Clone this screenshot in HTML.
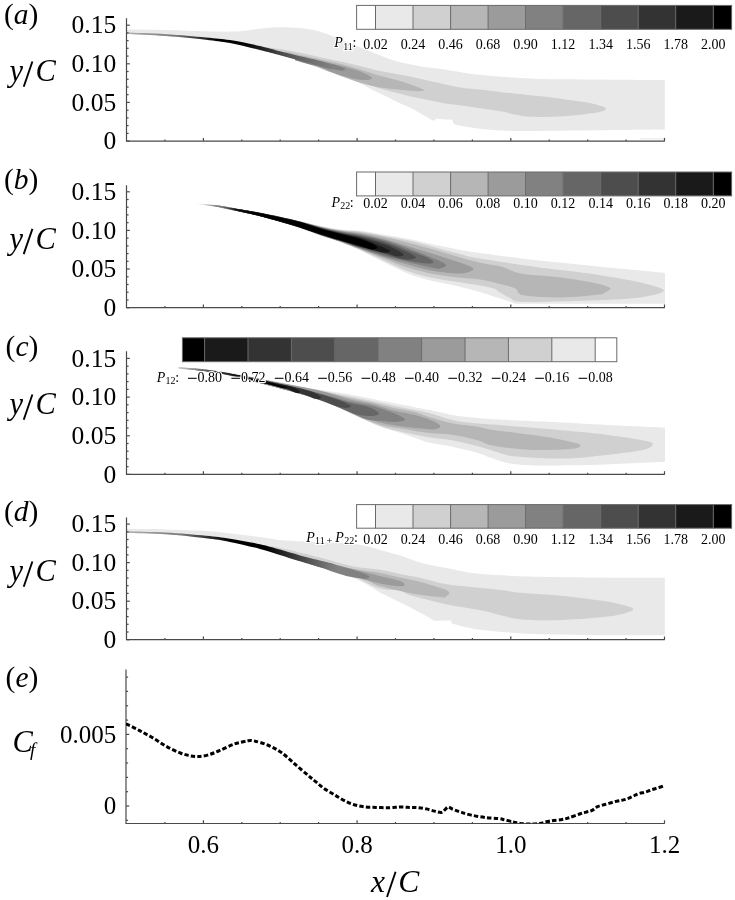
<!DOCTYPE html>
<html><head><meta charset="utf-8"><style>
html,body{margin:0;padding:0;background:#fff;}
body{width:735px;height:900px;overflow:hidden;}
svg{display:block;will-change:transform;}
text{font-family:"Liberation Serif",serif;fill:#000;}
.h{stroke:#fff;stroke-width:2.2px;stroke-linejoin:round;paint-order:stroke fill;}
</style></head><body>
<svg width="735" height="900" viewBox="0 0 735 900">
<defs><linearGradient id="ga" gradientUnits="userSpaceOnUse" x1="126" y1="0" x2="342" y2="0"><stop offset="0" stop-color="#b0b0b0"/><stop offset="0.22" stop-color="#7a7a7a"/><stop offset="0.36" stop-color="#2a2a2a"/><stop offset="0.42" stop-color="#000"/><stop offset="0.56" stop-color="#050505"/><stop offset="0.64" stop-color="#262626"/><stop offset="0.72" stop-color="#4a4a4a"/><stop offset="0.82" stop-color="#666"/><stop offset="0.92" stop-color="#7a7a7a"/><stop offset="1" stop-color="#8a8a8a"/></linearGradient><linearGradient id="rc" gradientUnits="userSpaceOnUse" x1="180" y1="0" x2="242" y2="0"><stop offset="0.000" stop-color="#c8c8c8"/><stop offset="0.242" stop-color="#8a8a8a"/><stop offset="0.452" stop-color="#555555"/><stop offset="0.726" stop-color="#2a2a2a"/><stop offset="1.000" stop-color="#000000"/></linearGradient><linearGradient id="gd" gradientUnits="userSpaceOnUse" x1="126" y1="0" x2="345" y2="0"><stop offset="0" stop-color="#b0b0b0"/><stop offset="0.25" stop-color="#7a7a7a"/><stop offset="0.40" stop-color="#222"/><stop offset="0.48" stop-color="#000"/><stop offset="0.64" stop-color="#000"/><stop offset="0.73" stop-color="#2a2a2a"/><stop offset="0.84" stop-color="#555"/><stop offset="0.93" stop-color="#777"/><stop offset="1" stop-color="#8a8a8a"/></linearGradient><clipPath id="cpe"><rect x="126" y="660" width="545" height="163.2"/></clipPath></defs>
<rect width="735" height="900" fill="#fff"/>
<path d="M126 29.4 C132.7 29.5 152.7 29.6 166 29.9 C179.3 30.2 195 31 206 31.3 C217 31.6 224.5 31.8 232 31.6 C239.5 31.4 245.3 30.5 251 29.9 C256.7 29.3 261.2 28.4 266 28 C270.8 27.6 274.3 27.2 280 27.2 C285.7 27.2 294 27.4 300 28 C306 28.6 310.5 29.2 316 30.6 C321.5 32 326.8 34 333 36.3 C339.2 38.6 346.2 41.8 353 44.5 C359.8 47.2 367.3 50.2 373.5 52.7 C379.7 55.2 384.6 57.4 390 59.2 C395.4 61 400.8 62.4 406 63.6 C411.2 64.8 415.2 65.6 421 66.5 C426.8 67.4 434.2 68 441 69 C447.8 70 455.2 71.4 462 72.4 C468.8 73.4 475.3 74.3 482 75 C488.7 75.7 494 76.2 502 76.8 C510 77.4 519.7 78 530 78.4 C540.3 78.8 541.5 79 564 79.3 C586.5 79.6 648 80 664.8 80.1 L664.8 129.6 C654 129.7 622.5 130.1 600 130.3 C577.5 130.5 546.3 131 530 131 C513.7 131 510 130.7 502 130.4 C494 130.1 488.7 129.7 482 129 C475.3 128.3 466.7 126.8 462 126 C457.3 125.2 455.7 125 454 124 C452.3 123 453.7 120.8 452 120 C450.3 119.2 446.7 119.7 444 119.5 C441.3 119.3 437.7 118.6 436 118.8 C434.3 119 436.5 121.4 434 120.6 C431.5 119.8 424.7 115.7 421 113.7 C417.3 111.7 415.5 110.2 412 108.5 C408.5 106.8 403.7 104.9 400 103.2 C396.3 101.5 393.3 99.9 390 98.3 C386.7 96.7 383.7 95.4 380 93.6 C376.3 91.8 372.2 89.7 368 87.5 C363.8 85.3 359.5 82.9 355 80.5 C350.5 78.1 346.8 75.6 341 73.2 C335.2 70.8 326.8 68.1 320 66 C313.2 63.9 306.7 62.2 300 60.4 C293.3 58.6 286.7 56.7 280 55 C273.3 53.3 268.3 52.2 260 50.2 C251.7 48.2 239 45 230 43.3 C221 41.6 216.7 41.1 206 39.9 C195.3 38.7 179.3 37.1 166 36.1 C152.7 35.1 132.7 34.4 126 34.1 Z" fill="#e9e9e9"/>
<rect x="640" y="138" width="24" height="1.6" fill="#f0f0f0"/>
<path d="M262 47 C265 47.3 273.7 48 280 49 C286.3 50 293.2 51.4 300 52.8 C306.8 54.2 314.2 56 321 57.5 C327.8 59 334.2 60 341 61.5 C347.8 63 355.5 64.9 362 66.5 C368.5 68.1 372.8 69.5 380 71 C387.2 72.5 398.2 74.2 405 75.5 C411.8 76.8 415 77.7 421 79 C427 80.3 434.2 82 441 83.5 C447.8 85 455.2 86.8 462 87.8 C468.8 88.8 475.3 89.1 482 89.8 C488.7 90.5 494 91.3 502 92.2 C510 93.1 522.8 94.5 530 95.3 C537.2 96.1 539.3 96.1 545 96.8 C550.7 97.5 557.8 98.4 564 99.2 C570.2 100 577 101 582 101.8 C587 102.6 590.7 103.2 594 104 C597.3 104.8 600 105.6 602 106.3 C604 107 605.8 107.5 606 108.3 C606.2 109.1 605.3 110.2 603 111 C600.7 111.8 598.5 112.4 592 113.3 C585.5 114.2 574.3 115.6 564 116.2 C553.7 116.8 539 117.2 530 116.8 C521 116.3 514.7 114.4 510 113.5 C505.3 112.6 506.7 112.4 502 111.6 C497.3 110.8 488.7 109.6 482 108.6 C475.3 107.6 468.2 106.3 462 105.5 C455.8 104.7 450.7 104.4 445 103.5 C439.3 102.6 433.7 101.2 428 100 C422.3 98.8 416.5 97.8 411 96.5 C405.5 95.2 400.2 93.8 395 92.5 C389.8 91.2 384.5 89.9 380 88.5 C375.5 87.1 372.2 85.6 368 84 C363.8 82.4 359.5 80.9 355 79 C350.5 77.1 346.7 75 341 72.8 C335.3 70.6 327.8 68.1 321 66 C314.2 63.9 306.8 61.9 300 60 C293.2 58.1 286.3 56.5 280 54.7 C273.7 53 265 50.4 262 49.5 Z" fill="#d0d0d0"/>
<path d="M285 51.6 C289.2 52.5 302.5 55.6 310 57.3 C317.5 58.9 323.3 60 330 61.5 C336.7 63 342.5 64.4 350 66.5 C357.5 68.6 367 71.9 374.9 74.2 C382.8 76.5 391.2 78.4 397.4 80.2 C403.6 82 408.5 83.7 412.3 85 C416.1 86.3 418 87.1 420 88 C422 88.9 424.6 89.7 424.3 90.2 C424 90.8 420 91.2 418 91.3 C416 91.4 417 91.2 412.3 90.8 C407.6 90.4 396.1 89.4 389.9 88.7 C383.7 88 379.9 87.4 374.9 86.4 C369.9 85.4 365 84.2 360 82.7 C355 81.2 350 79.3 345 77.5 C340 75.7 335.8 74.2 330 72 C324.2 69.8 316.7 66.9 310 64.5 C303.3 62.1 293.3 58.9 290 57.8 Z" fill="#b6b6b6"/>
<path d="M300 56.3 C303.3 57 313.3 59.2 320 60.8 C326.7 62.3 334.2 64.1 340 65.6 C345.8 67.1 350.7 68.4 355 69.8 C359.3 71.2 363.2 72.6 366 74 C368.8 75.4 371.9 77.2 371.9 78.2 C371.9 79.2 368.8 79.9 366 80 C363.2 80.1 358.5 79.6 355 79 C351.5 78.4 349.2 77.8 345 76.5 C340.8 75.2 334.2 73.1 330 71.5 C325.8 69.9 325 68.8 320 67 C315 65.2 303.3 61.6 300 60.5 Z" fill="#9b9b9b"/>
<path d="M295 56.2 C298.3 56.8 309.2 58.7 315 59.9 C320.8 61.1 325.8 62.5 330 63.6 C334.2 64.7 337.5 65.7 340 66.6 C342.5 67.5 345 68.1 345 68.8 C345 69.5 345 71 340 70.5 C335 70 322.5 67.3 315 65.6 C307.5 63.9 298.3 61.1 295 60.2 Z" fill="#818181"/>
<path d="M126 33.9 C132.7 34.2 152.7 34.9 166 35.9 C179.3 36.9 195.3 38.5 206 39.7 C216.7 40.9 221 41.4 230 43.1 C239 44.8 251.7 48 260 50 C268.3 52 273.3 53.4 280 55.2 C286.7 57 293.3 58.8 300 60.6 C306.7 62.4 315 64.6 320 66 C325 67.4 327.3 68.6 330 69 C332.7 69.4 336 69.3 336 68.6 C336 67.8 332.7 65.8 330 64.5 C327.3 63.2 325 62.4 320 61 C315 59.6 306.7 57.9 300 56.3 C293.3 54.7 286.7 53 280 51.3 C273.3 49.6 268.3 47.9 260 46 C251.7 44.1 239 41.4 230 40 C221 38.6 216.7 38.4 206 37.4 C195.3 36.4 179.3 35 166 34.2 C152.7 33.4 132.7 32.9 126 32.6 Z" fill="url(#ga)"/>
<path d="M195.4 203.8 C199 204.1 210 204.4 217 205.2 C224 206 230.8 207.5 237.6 208.7 C244.4 209.9 250.9 210.9 258 212.2 C265.1 213.5 272.9 215.1 280 216.6 C287.1 218.1 293.6 219.7 300.4 221.3 C307.2 222.9 314 224.7 320.8 226.1 C327.6 227.5 334.7 228.7 341.2 229.5 C347.7 230.3 352.8 229.8 360 230.7 C367.2 231.6 376.3 233.4 384.5 234.8 C392.7 236.2 400.8 237.3 409 238.9 C417.2 240.5 425.3 242.8 433.5 244.6 C441.7 246.4 450.2 248.1 458 249.5 C465.8 250.9 467.3 251.3 480 253 C492.7 254.7 516.3 257.8 534.4 259.9 C552.5 262 570.6 263.6 588.8 265.4 C606.9 267.2 630.6 269.5 643.3 270.8 C656 272.1 661.4 272.6 665 273 L665 303.8 L515.4 303.8 C514 303.3 510.8 301.9 507.2 300.7 C503.6 299.5 498.1 297.9 493.6 296.5 C489.1 295.1 485.9 293.7 480 292 C474.1 290.3 465.8 288 458 286.2 C450.2 284.4 441.7 283.3 433.5 281.3 C425.3 279.3 417.2 277.1 409 274 C400.8 270.9 392.7 266.6 384.5 262.6 C376.3 258.7 367.2 253.7 360 250.3 C352.8 246.9 347.7 244.9 341.2 242.4 C334.7 239.9 327.6 238 320.8 235.6 C314 233.2 307.2 230.4 300.4 228.1 C293.6 225.8 287.1 224.1 280 222 C272.9 219.9 265.1 217.6 258 215.8 C250.9 214 244.4 212.8 237.6 211.3 C230.8 209.8 220.4 207.6 217 206.9 Z" fill="#e9e9e9"/>
<path d="M199.8 204.3 C202.7 204.5 210.7 204.5 217 205.2 C223.3 206 230.8 207.6 237.6 208.8 C244.4 209.9 250.9 210.9 258 212.3 C265.1 213.6 272.9 215.2 280 216.7 C287.1 218.2 293.6 219.8 300.4 221.4 C307.2 223 314 225 320.8 226.4 C327.6 227.8 334.7 229.2 341.2 230 C347.7 230.9 352.8 230.6 360 231.6 C367.2 232.6 376.3 234.5 384.5 236 C392.7 237.5 400.8 238.7 409 240.5 C417.2 242.3 425.3 244.8 433.5 247 C441.7 249.2 450.2 251.7 458 253.6 C465.8 255.5 467.3 256.4 480 258.6 C492.7 260.8 516.3 264.2 534.4 266.7 C552.5 269.2 572.9 271.2 588.8 273.5 C604.7 275.8 619.2 278.3 629.7 280.3 C640.2 282.3 646.3 283.9 652 285.5 C657.7 287.1 662.9 288.6 663.7 290 C664.5 291.4 661 292.8 657 294 C653 295.2 646.8 296.6 640 297.5 C633.2 298.4 629.1 298.8 616 299.4 C602.9 300 577.6 300.9 561.6 301.3 C545.6 301.7 528.6 302.4 520 301.8 C511.4 301.2 513.3 299.6 510 298 C506.7 296.4 502.7 294.1 500 292.5 C497.3 290.9 496.9 289.6 493.6 288.5 C490.3 287.4 485.9 286.7 480 285.6 C474.1 284.5 465.8 283.4 458 282.1 C450.2 280.8 441.7 279.8 433.5 278 C425.3 276.2 417.2 274.4 409 271.5 C400.8 268.6 392.7 264.5 384.5 260.9 C376.3 257.3 367.2 252.9 360 249.8 C352.8 246.7 347.7 244.6 341.2 242.2 C334.7 239.8 327.6 237.8 320.8 235.5 C314 233.1 307.2 230.3 300.4 228 C293.6 225.8 287.1 224 280 221.9 C272.9 219.9 265.1 217.5 258 215.8 C250.9 214 244.4 212.7 237.6 211.3 C230.8 209.8 220.4 207.6 217 206.9 Z" fill="#d0d0d0"/>
<path d="M204.2 204.7 C206.3 204.8 211.4 204.6 217 205.3 C222.6 206 230.8 207.6 237.6 208.8 C244.4 210 250.9 211 258 212.3 C265.1 213.7 272.9 215.2 280 216.8 C287.1 218.3 293.6 219.8 300.4 221.5 C307.2 223.2 314 225.2 320.8 226.7 C327.6 228.2 334.7 229.6 341.2 230.6 C347.7 231.5 352.8 231.5 360 232.5 C367.2 233.6 376.3 235.3 384.5 237 C392.7 238.7 400.8 240.9 409 243 C417.2 245.1 425.3 247.2 433.5 249.5 C441.7 251.8 450.2 254.6 458 256.8 C465.8 259 472.7 261.1 480 262.7 C487.3 264.3 495 264.9 501.8 266.7 C508.6 268.5 510.8 271.7 520.8 273.5 C530.8 275.3 549.4 276 561.6 277.6 C573.9 279.2 586.9 281.6 594.3 283 C601.7 284.4 603.3 285 606 286 C608.7 287 610.9 287.8 610.6 289 C610.3 290.2 605.8 292.1 604 293 C602.2 293.9 606.8 293.8 599.7 294.5 C592.6 295.2 574.3 297.4 561.6 297.5 C548.9 297.6 531.2 296.8 523.5 295.3 C515.8 293.8 519 290.3 515.4 288.5 C511.8 286.7 507.7 285.9 501.8 284.4 C495.9 282.9 487.3 280.6 480 279.5 C472.7 278.4 465.8 278.4 458 277.5 C450.2 276.6 441.7 275.6 433.5 274 C425.3 272.4 417.2 270.5 409 268 C400.8 265.5 392.7 262.1 384.5 259 C376.3 255.9 367.2 252.1 360 249.3 C352.8 246.5 347.7 244.3 341.2 242 C334.7 239.6 327.6 237.6 320.8 235.3 C314 233 307.2 230.2 300.4 227.9 C293.6 225.7 287.1 223.9 280 221.8 C272.9 219.8 265.1 217.5 258 215.7 C250.9 213.9 244.4 212.7 237.6 211.2 C230.8 209.7 220.4 207.5 217 206.8 Z" fill="#b6b6b6"/>
<path d="M208.6 205.2 C210 205.2 212.2 204.7 217 205.3 C221.8 205.9 230.8 207.7 237.6 208.9 C244.4 210 250.9 211.1 258 212.4 C265.1 213.7 272.9 215.3 280 216.9 C287.1 218.4 293.6 219.9 300.4 221.6 C307.2 223.3 314 225.4 320.8 227 C327.6 228.6 334.7 230 341.2 231.1 C347.7 232.2 352.8 232.2 360 233.5 C367.2 234.8 376.3 236.8 384.5 239 C392.7 241.2 400.8 244 409 246.5 C417.2 249 425.8 251.6 433.5 254 C441.2 256.4 449.2 259.1 455 261 C460.8 262.9 464.9 264.1 468 265.5 C471.1 266.9 473.5 268 473.5 269.1 C473.5 270.2 470.6 271.6 468 272.3 C465.4 273 463.8 273.7 458 273.5 C452.2 273.3 441.7 272.4 433.5 271 C425.3 269.6 417.2 267.2 409 265 C400.8 262.8 392.7 260.2 384.5 257.5 C376.3 254.8 367.2 251.4 360 248.8 C352.8 246.2 347.7 244 341.2 241.7 C334.7 239.5 327.6 237.5 320.8 235.2 C314 232.9 307.2 230.1 300.4 227.9 C293.6 225.6 287.1 223.8 280 221.8 C272.9 219.7 265.1 217.4 258 215.7 C250.9 213.9 244.4 212.7 237.6 211.2 C230.8 209.7 220.4 207.5 217 206.8 Z" fill="#9b9b9b"/>
<path d="M213 205.6 C213.7 205.6 212.9 204.8 217 205.4 C221.1 205.9 230.8 207.7 237.6 208.9 C244.4 210.1 250.9 211.1 258 212.5 C265.1 213.8 272.9 215.4 280 217 C287.1 218.5 293.6 220 300.4 221.7 C307.2 223.4 314 225.6 320.8 227.3 C327.6 229 334.7 230.5 341.2 231.6 C347.7 232.8 352.8 233 360 234.4 C367.2 235.8 376.3 237.6 384.5 240 C392.7 242.4 401.4 245.7 409 248.5 C416.6 251.3 424.7 254.8 430 257 C435.3 259.2 438.3 260.1 441 261.5 C443.7 262.9 446.2 264.3 446 265.5 C445.8 266.7 442.1 268.1 440 268.5 C437.9 268.9 438.7 269 433.5 268 C428.3 267 417.2 264.4 409 262.5 C400.8 260.6 392.7 258.9 384.5 256.5 C376.3 254.1 367.2 250.8 360 248.3 C352.8 245.8 347.7 243.7 341.2 241.5 C334.7 239.3 327.6 237.3 320.8 235 C314 232.7 307.2 230 300.4 227.8 C293.6 225.6 287.1 223.7 280 221.7 C272.9 219.7 265.1 217.4 258 215.6 C250.9 213.9 244.4 212.6 237.6 211.1 C230.8 209.6 220.4 207.5 217 206.7 Z" fill="#818181"/>
<path d="M217.4 206.1 C220.8 206.6 230.8 207.9 237.6 209 C244.4 210 250.9 211.2 258 212.5 C265.1 213.9 272.9 215.5 280 217 C287.1 218.6 293.6 220 300.4 221.8 C307.2 223.6 314 225.9 320.8 227.6 C327.6 229.3 334.7 230.9 341.2 232.2 C347.7 233.5 352.8 233.8 360 235.3 C367.2 236.8 376.3 238.7 384.5 241.2 C392.7 243.7 402.2 247.9 409 250.5 C415.8 253.1 421.5 255.1 425 256.5 C428.5 257.9 428.6 258.1 430 259 C431.4 259.9 433.8 261.2 433.5 262 C433.2 262.8 432.1 263.7 428 263.5 C423.9 263.3 416.2 262.4 409 261 C401.8 259.6 392.7 257.2 384.5 255 C376.3 252.8 367.2 250.1 360 247.8 C352.8 245.5 347.7 243.4 341.2 241.3 C334.7 239.1 327.6 237.1 320.8 234.9 C314 232.6 307.2 229.9 300.4 227.7 C293.6 225.5 287.1 223.6 280 221.6 C272.9 219.6 265.1 217.3 258 215.6 C250.9 213.8 241 211.8 237.6 211.1 Z" fill="#666666"/>
<path d="M221.8 207 C224.4 207.3 231.6 208.1 237.6 209 C243.6 210 250.9 211.2 258 212.6 C265.1 213.9 272.9 215.6 280 217.1 C287.1 218.7 293.6 220.1 300.4 221.9 C307.2 223.7 314 226.1 320.8 227.9 C327.6 229.7 334.7 231.3 341.2 232.7 C347.7 234.1 352.8 234.6 360 236.2 C367.2 237.9 377 240.2 384.5 242.7 C392 245.2 400.4 249 405 251 C409.6 253 410.2 253.4 412 254.5 C413.8 255.6 416.3 257 416 257.8 C415.7 258.6 412.7 259.4 410 259.5 C407.3 259.6 404.2 259.5 400 258.5 C395.8 257.5 391.2 255.4 384.5 253.5 C377.8 251.6 367.2 249.4 360 247.3 C352.8 245.2 347.7 243.2 341.2 241.1 C334.7 239 327.6 237 320.8 234.7 C314 232.5 307.2 229.8 300.4 227.6 C293.6 225.4 287.1 223.6 280 221.5 C272.9 219.5 265.1 217.3 258 215.5 C250.9 213.8 241 211.8 237.6 211 Z" fill="#4d4d4d"/>
<path d="M226.2 207.8 C228.1 208 232.3 208.3 237.6 209.1 C242.9 209.9 250.9 211.3 258 212.7 C265.1 214 272.9 215.7 280 217.2 C287.1 218.8 293.6 220.2 300.4 222 C307.2 223.8 314 226.3 320.8 228.2 C327.6 230.1 334.7 231.7 341.2 233.2 C347.7 234.7 352.8 235.3 360 237.2 C367.2 239 378.3 242.4 384.5 244.5 C390.7 246.6 393.8 248.3 397 250 C400.2 251.7 403.5 253.8 403.5 254.8 C403.5 255.9 400.2 256.7 397 256.3 C393.8 255.9 390.7 254.1 384.5 252.5 C378.3 250.9 367.2 248.7 360 246.8 C352.8 244.9 347.7 242.9 341.2 240.8 C334.7 238.8 327.6 236.8 320.8 234.6 C314 232.4 307.2 229.7 300.4 227.6 C293.6 225.4 287.1 223.5 280 221.5 C272.9 219.4 265.1 217.2 258 215.5 C250.9 213.7 241 211.7 237.6 211 Z" fill="#333333"/>
<path d="M230.6 208.7 C231.8 208.8 233 208.5 237.6 209.1 C242.2 209.8 250.9 211.4 258 212.7 C265.1 214.1 272.9 215.8 280 217.3 C287.1 218.9 293.6 220.2 300.4 222.1 C307.2 224 314 226.6 320.8 228.5 C327.6 230.4 334.7 232.2 341.2 233.8 C347.7 235.4 353.5 236 360 238.1 C366.5 240.1 375.5 244.2 380 246 C384.5 247.8 385.3 248.1 387 249 C388.7 249.9 390.3 250.6 390 251.2 C389.7 251.8 387.5 252.9 385 252.8 C382.5 252.7 379.2 251.6 375 250.5 C370.8 249.4 365.6 247.9 360 246.3 C354.4 244.7 347.7 242.6 341.2 240.6 C334.7 238.6 327.6 236.6 320.8 234.4 C314 232.3 307.2 229.7 300.4 227.5 C293.6 225.3 287.1 223.4 280 221.4 C272.9 219.4 265.1 217.2 258 215.4 C250.9 213.7 241 211.7 237.6 210.9 Z" fill="#1a1a1a"/>
<path d="M235 209.5 C238.8 210.1 250.5 211.5 258 212.8 C265.5 214.1 272.9 215.8 280 217.4 C287.1 219 293.6 220.3 300.4 222.2 C307.2 224.1 314 226.8 320.8 228.8 C327.6 230.8 334.7 232.6 341.2 234.3 C347.7 236 354.9 237.5 360 239 C365.1 240.5 369.1 242.1 372 243.5 C374.9 244.9 377.1 246.5 377.1 247.5 C377.1 248.5 374.9 249.8 372 249.5 C369.1 249.2 365.1 247.3 360 245.8 C354.9 244.3 347.7 242.3 341.2 240.4 C334.7 238.5 327.6 236.5 320.8 234.3 C314 232.1 307.2 229.6 300.4 227.4 C293.6 225.2 287.1 223.3 280 221.3 C272.9 219.3 261.7 216.4 258 215.4 Z" fill="#000000"/>
<path d="M178.2 367.5 C181 367.7 189.6 368.3 195 368.7 C200.4 369.1 204.1 369.2 210.8 370 C217.5 370.8 227.1 372.1 235.3 373.6 C243.5 375.1 252.4 377.4 259.8 378.8 C267.2 380.2 272.6 380.9 280 382.3 C287.4 383.7 296.3 385.5 304.5 387 C312.7 388.5 321.4 390.1 329 391.3 C336.6 392.5 342.9 393.2 350 394.4 C357.1 395.6 364.6 397.2 371.8 398.7 C379.1 400.1 386.2 401.7 393.5 403.1 C400.8 404.6 409.2 406.2 415.3 407.4 C421.4 408.6 423.6 408.8 430 410.1 C436.4 411.4 445.5 414 453.5 415.3 C461.5 416.6 471.9 417.5 478 418.1 C484.1 418.7 479.4 418.4 490 419 C500.6 419.6 524.5 420.7 541.7 421.6 C558.9 422.5 576.2 423.3 593.4 424.2 C610.6 425.1 633.2 426.2 645.1 426.8 C657 427.4 661.7 427.5 665 427.6 L665 461.7 L593.4 465.1 C584.8 465.2 554.6 465.7 541.7 465.6 C528.8 465.5 522.4 465 515.9 464.3 C509.4 463.6 507.2 462.8 502.9 461.7 C498.6 460.6 494.1 458.9 490 457.5 C485.9 456.1 484.1 454.8 478 453 C471.9 451.2 461.5 448.7 453.5 447 C445.5 445.3 436.4 444.3 430 442.8 C423.6 441.3 420.5 439.6 415.3 437.9 C410.1 436.2 404.4 434.2 399 432.4 C393.6 430.6 388.1 429.2 382.7 427.2 C377.2 425.2 371.8 422.8 366.3 420.5 C360.9 418.2 356.2 416 350 413.2 C343.8 410.4 336.6 406.8 329 403.8 C321.4 400.9 312.7 398.2 304.5 395.5 C296.3 392.8 287.4 389.4 280 387.4 C272.6 385.4 267.2 385.2 259.8 383.4 C252.4 381.6 243.5 378.5 235.3 376.7 C227.1 374.9 217.5 373.5 210.8 372.4 C204.1 371.3 200.4 370.7 195 370 C189.6 369.3 181 368.6 178.2 368.3 Z" fill="#e9e9e9"/>
<path d="M178.2 367.6 C183.6 368.1 197.2 368.8 210.8 370.7 C224.4 372.6 244.2 376.2 259.8 379 C275.4 381.8 289.5 384.5 304.5 387.4 C319.5 390.3 338.8 394.1 350 396.4 C361.2 398.6 362.9 399 372 400.9 C381.1 402.8 395 406 404.5 408 C414 410 420.8 410.9 429 412.9 C437.2 414.9 445.3 418.4 453.5 420.2 C461.7 422 470.2 422.7 478 423.5 C485.8 424.3 489.4 424.2 500 425.1 C510.6 426 526.1 427.2 541.7 428.6 C557.3 430 578.3 431.7 593.4 433.3 C608.5 434.9 623.1 437 632.2 438.4 C641.3 439.8 644.5 440.6 648 441.5 C651.5 442.4 653.8 442.7 652.9 444.1 C652 445.5 652.4 448 642.5 450.1 C632.6 452.2 607.2 455.1 593.4 456.5 C579.6 457.9 572.7 458.6 559.8 458.6 C546.9 458.6 525.9 457.4 515.9 456.5 C505.9 455.6 506.3 454.6 500 452.9 C493.7 451.2 485.8 448.4 478 446.3 C470.2 444.2 461.7 442.1 453.5 440.6 C445.3 439.1 437.2 438.7 429 437.3 C420.8 435.9 412.7 434.2 404.5 432.4 C396.3 430.6 388.5 429.3 380 426.3 C371.5 423.3 362 418.2 353.5 414.4 C345 410.6 337.2 406.7 329 403.5 C320.8 400.3 316 398.6 304.5 395.2 C293 391.8 275.4 387.1 259.8 383.2 C244.2 379.3 224.4 374.2 210.8 371.7 C197.2 369.2 183.6 368.8 178.2 368.2 Z" fill="#d0d0d0"/>
<path d="M178.2 367.7 C183.6 368.2 197.2 369 210.8 370.9 C224.4 372.8 244.2 376.4 259.8 379.2 C275.4 382 289.5 384.7 304.5 387.8 C319.5 390.9 338.8 395.6 350 398 C361.2 400.4 364.8 400.8 372 402.5 C379.2 404.2 386.3 406.4 393.5 408 C400.7 409.6 409.1 410.5 415 412 C420.9 413.5 422.6 415 429 416.9 C435.4 418.8 445.3 421.9 453.5 423.5 C461.7 425.1 471.9 425.7 478 426.7 C484.1 427.7 481.5 428.1 490 429.4 C498.5 430.7 518 433.1 528.8 434.6 C539.6 436.1 547.3 437.1 554.6 438.4 C561.9 439.7 568.4 441.1 572.7 442.3 C577 443.5 580.5 444.3 580.5 445.4 C580.5 446.5 579.2 448 572.7 448.8 C566.2 449.6 551.2 450.1 541.7 450.1 C532.2 450.1 524.5 449.7 515.9 448.8 C507.3 447.9 496.3 446.3 490 444.9 C483.7 443.5 484.1 441.9 478 440.2 C471.9 438.5 461.7 436.1 453.5 434.9 C445.3 433.7 437.2 434 429 433 C420.8 432 412.7 430.4 404.5 429 C396.3 427.6 388.5 427.3 380 424.8 C371.5 422.3 362 417.6 353.5 414 C345 410.4 337.2 406.4 329 403.3 C320.8 400.2 316 398.5 304.5 395.1 C293 391.7 275.4 387 259.8 383.1 C244.2 379.2 224.4 374.1 210.8 371.6 C197.2 369.1 183.6 368.7 178.2 368.1 Z" fill="#b6b6b6"/>
<path d="M186 368.5 C190.1 368.9 202.6 369.6 210.8 370.6 C219 371.7 223.8 372.7 235.3 374.8 C246.8 376.9 268.5 380.9 280 383 C291.5 385.1 296.3 385.9 304.5 387.6 C312.7 389.3 321.4 391 329 393 C336.6 395 342.8 397.8 350 399.6 C357.2 401.5 364.8 402.3 372 404.1 C379.2 405.9 386.3 408.7 393.5 410.5 C400.7 412.3 409.1 413.5 415 415 C420.9 416.5 425.3 418.1 429 419.4 C432.7 420.7 435.1 421.8 437 423 C438.9 424.2 440.6 425.7 440.4 426.7 C440.2 427.7 437.9 428.6 436 429 C434.1 429.4 434.2 429.6 429 429.2 C423.8 428.8 412.7 427.9 404.5 426.8 C396.3 425.7 388.5 424.8 380 422.6 C371.5 420.4 362 417 353.5 413.8 C345 410.5 337.2 406.2 329 403.1 C320.8 400 316 398.4 304.5 395 C293 391.6 271.3 386.2 259.8 383 C248.3 379.8 243.5 377.8 235.3 375.9 C227.1 374 219 373 210.8 371.9 C202.6 370.8 190.1 369.5 186 369 Z" fill="#9b9b9b"/>
<path d="M191 369.1 C196.7 369.7 213.5 371.1 225 372.7 C236.5 374.3 247.3 376.3 259.8 378.9 C272.3 381.4 288.3 385.1 300 388 C311.7 390.9 321.7 393.8 330 396 C338.3 398.2 343 399.9 350 401.5 C357 403.1 364.8 403.9 372 405.8 C379.2 407.7 388.7 411.2 393.5 413 C398.3 414.8 399.1 415.4 401 416.5 C402.9 417.6 405.2 418.5 405 419.4 C404.8 420.2 402.5 421.2 400 421.6 C397.5 422 393.3 421.9 390 421.8 C386.7 421.7 384 421.2 380 420.8 C376 420.4 371 420.6 366 419.2 C361 417.7 356.2 414.9 350 412.2 C343.8 409.5 336.6 405.9 329 403 C321.4 400.1 316 398.2 304.5 394.9 C293 391.5 272.2 386.2 259.8 382.9 C247.4 379.6 238.2 377.2 230 375.4 C221.8 373.5 217.3 372.8 210.8 371.8 C204.3 370.8 194.3 369.9 191 369.5 Z" fill="#818181"/>
<path d="M196 369.6 C200.8 370.2 214.4 371.3 225 372.9 C235.6 374.5 247.3 376.6 259.8 379.2 C272.3 381.8 288.3 385.5 300 388.5 C311.7 391.5 321.7 394.6 330 397 C338.3 399.4 344.2 401.5 350 403 C355.8 404.5 361 404.9 365 406 C369 407.1 371.7 408.3 374 409.5 C376.3 410.7 378.8 412.3 378.8 413.4 C378.8 414.4 376.1 415.4 374 415.8 C371.9 416.2 369.2 416.1 366 415.8 C362.8 415.5 359.3 415.3 355 413.9 C350.7 412.6 345.8 410.1 340 407.7 C334.2 405.4 326.7 402.3 320 399.9 C313.3 397.4 308.3 395.8 300 393.3 C291.7 390.8 280 387.5 270 384.8 C260 382.2 249.2 379.6 240 377.5 C230.8 375.4 222.3 373.5 215 372.2 C207.7 370.9 199.2 370.3 196 369.9 Z" fill="#666666"/>
<path d="M201 370.2 C205 370.7 215.2 371.6 225 373.2 C234.8 374.8 247.3 376.9 259.8 379.5 C272.3 382.1 289.1 386.3 300 389 C310.9 391.7 318.3 393.6 325 395.5 C331.7 397.4 336.3 399.1 340 400.5 C343.7 401.9 345.2 402.8 347 403.8 C348.8 404.8 351.2 405.6 351 406.3 C350.8 407 348.2 407.9 346 408 C343.8 408.1 342.3 408 338 406.6 C333.7 405.3 326.3 402 320 399.8 C313.7 397.5 308.3 395.7 300 393.2 C291.7 390.7 280 387.4 270 384.7 C260 382.1 248.3 379.4 240 377.4 C231.7 375.4 226.5 374 220 372.9 C213.5 371.8 204.2 370.9 201 370.5 Z" fill="#4d4d4d"/>
<path d="M209 371.2 C212.5 371.7 221.5 372.6 230 374 C238.5 375.4 249.8 377.8 259.8 379.8 C269.8 381.9 282.5 384.6 290 386.3 C297.5 388 300.8 388.7 305 389.8 C309.2 390.9 312.3 391.7 315 393 C317.7 394.3 320.8 396.5 321 397.5 C321.2 398.5 318.7 399.5 316 399 C313.3 398.5 309.3 396.2 305 394.7 C300.7 393.1 295.8 391.5 290 389.8 C284.2 388.1 277.5 386.5 270 384.6 C262.5 382.8 252.5 380.5 245 378.7 C237.5 376.8 231 374.7 225 373.5 C219 372.3 211.7 371.8 209 371.5 Z" fill="#333333"/>
<path d="M217 372.3 C220.8 372.9 232.9 374.5 240 375.8 C247.1 377.1 253.1 378.9 259.8 380.3 C266.5 381.7 274.6 383.2 280 384.3 C285.4 385.4 288.7 385.8 292 387 C295.3 388.2 299.3 390.5 300 391.5 C300.7 392.5 298.5 393.4 296 392.8 C293.5 392.2 290.2 389.6 285 388.1 C279.8 386.5 271.7 385.1 265 383.5 C258.3 381.9 250.8 380.1 245 378.6 C239.2 377 234.7 375.4 230 374.4 C225.3 373.4 219.2 372.9 217 372.6 Z" fill="#1a1a1a"/>
<path d="M234 374.8 C238.3 375.8 253 379.3 259.8 380.8 C266.6 382.3 270.5 382.9 275 384 C279.5 385.1 285.7 386.8 287 387.5 C288.3 388.2 285.8 388.5 283 388 C280.2 387.5 275.5 385.8 270 384.4 C264.5 383.1 256 381.3 250 379.8 C244 378.3 236.7 376.1 234 375.4 Z" fill="#000000"/>
<path d="M180 367.9 C182.5 368.2 189.9 368.7 195 369.2 C200.1 369.8 205.8 370.4 210.8 371.1 C215.8 371.8 219.8 372.4 225 373.3 C230.2 374.2 239.2 376.1 242 376.6" fill="none" stroke="url(#rc)" stroke-width="1.7" stroke-linecap="round"/>
<path d="M126 528.8 C132.7 528.9 152.7 529 166 529.4 C179.3 529.8 195.2 530.3 206 531 C216.8 531.7 221.8 532.6 230.8 533.6 C239.8 534.6 251.8 535.9 260 537 C268.2 538.1 272.5 539.2 280 540 C287.5 540.8 296.8 541.1 305 541.5 C313.2 541.9 320.9 542.1 329 542.5 C337.1 542.9 346.7 543 353.5 543.8 C360.3 544.5 364.9 545.9 369.8 547 C374.7 548.1 377.6 549.3 382.7 550.7 C387.8 552.1 394 553.5 400.4 555.5 C406.8 557.5 413.3 560.7 420.8 562.7 C428.3 564.8 436.8 566.1 445.3 567.8 C453.8 569.5 462.3 571.6 471.8 572.9 C481.3 574.1 492.7 574.7 502.4 575.3 C512.1 575.9 516.2 576.1 530 576.5 C543.8 576.9 562.8 577.2 585.3 577.4 C607.8 577.6 651.5 577.7 664.8 577.8 L664.8 635.2 C654 635.2 610.8 635.2 600 635.2 L530 634 C522 633.3 494.8 631.7 482 630 C469.2 628.3 458.6 625.4 453.5 623.9 C448.4 622.4 453 621.4 451.4 620.8 C449.8 620.2 446.6 620.5 444 620.5 C441.4 620.5 437.7 620.8 436 620.8 C434.3 620.8 436.7 621.8 434 620.4 C431.3 619 425.7 615.6 420 612.6 C414.3 609.6 406.7 605.7 400 602.3 C393.3 598.9 384.6 594.8 380 592.4 C375.4 590 376.8 590.2 372.4 587.8 C368 585.4 360.6 581 353.5 578.1 C346.4 575.2 338.9 573.2 330 570.5 C321.1 567.8 308.3 564.1 300 561.6 C291.7 559.1 286.7 557.4 280 555.3 C273.3 553.2 268.3 551.3 260 549.1 C251.7 546.9 239 543.9 230 542.1 C221 540.3 216.7 539.8 206 538.5 C195.3 537.2 179.3 535.4 166 534.5 C152.7 533.6 132.7 533.3 126 533.1 Z" fill="#e9e9e9"/>
<path d="M270 546 C271.7 546.3 274.2 546.6 280 547.9 C285.8 549.2 296.3 551.6 304.5 553.6 C312.7 555.6 320.8 557.9 329 560.1 C337.2 562.3 345 565 353.5 566.6 C362 568.2 372.2 568.6 380 569.8 C387.8 571 393.2 572.6 400 574 C406.8 575.4 413.2 576.3 420.8 578 C428.4 579.7 436.8 582.6 445.3 584.1 C453.8 585.6 462.3 586.1 471.8 587.1 C481.3 588.1 494.4 589.3 502.4 590.2 C510.4 591.1 509.8 591.8 520 592.7 C530.2 593.7 549 594.5 563.5 595.9 C578 597.3 596.8 599.8 607 601.4 C617.2 603 620.6 604.2 625 605.5 C629.4 606.8 633 607.8 633.2 609 C633.4 610.2 630.4 611.7 626 613 C621.6 614.3 617.4 615.5 607 616.6 C596.6 617.8 578 619.5 563.5 619.9 C549 620.3 533.6 620.8 520 619.2 C506.4 617.7 494.1 613.1 482 610.6 C469.9 608.1 459.2 607 447.3 604.5 C435.4 602 418.5 597.7 410.6 595.3 C402.7 592.9 405.1 591.4 400 590.3 C394.9 589.2 387.8 590.8 380 588.5 C372.2 586.2 362 579.7 353.5 576.4 C345 573.1 337.2 571.1 329 568.5 C320.8 565.9 312.7 563 304.5 560.5 C296.3 558 285.8 555.2 280 553.5 C274.2 551.8 271.7 550.6 270 550 Z" fill="#d0d0d0"/>
<path d="M285 551.5 C288.2 552.3 297.2 554.6 304.5 556.5 C311.8 558.4 320.8 560.9 329 563 C337.2 565.1 345 567.5 353.5 569.1 C362 570.8 372.2 571.5 380 572.9 C387.8 574.3 393.2 576 400 577.5 C406.8 579 413.9 580.2 420.8 582 C427.7 583.8 436.8 586.8 441.2 588.2 C445.6 589.6 445.6 589.6 447 590.5 C448.4 591.4 449.6 592.3 449.4 593.3 C449.2 594.3 447.4 595.8 446 596.5 C444.6 597.2 447.1 597.8 441.2 597.3 C435.3 596.8 420.8 595.2 410.6 593.3 C400.4 591.4 386.9 588.1 380 586.1 C373.1 584.1 373.4 582.9 369 581 C364.6 579.1 360.2 577.1 353.5 574.8 C346.8 572.5 337.2 569.8 329 567.4 C320.8 565 311.8 562.6 304.5 560.5 C297.2 558.4 288.2 555.5 285 554.5 Z" fill="#b6b6b6"/>
<path d="M295 555 C297.5 555.6 304.2 557.1 310 558.5 C315.8 559.9 323.3 561.8 330 563.5 C336.7 565.2 341.7 566.4 350 568.5 C358.3 570.6 372.5 574.1 380 575.9 C387.5 577.7 391.3 578.5 395 579.5 C398.7 580.5 400.4 581.1 402 582 C403.6 582.9 404.8 584 404.5 584.7 C404.2 585.4 404.1 586.5 400 586.3 C395.9 586.1 387.5 585 380 583.5 C372.5 582 361.7 578.8 355 577 C348.3 575.2 345 574 340 572.5 C335 571 330 569.5 325 568 C320 566.5 315 564.9 310 563.5 C305 562.1 297.5 560.2 295 559.5 Z" fill="#9b9b9b"/>
<path d="M310 559 C313.3 559.8 324.2 562.1 330 563.5 C335.8 564.9 340.3 566.2 345 567.5 C349.7 568.8 354.5 570.3 358 571.5 C361.5 572.7 364.1 573.6 366 574.5 C367.9 575.4 369.8 576.1 369.6 576.8 C369.4 577.5 368.3 578.7 365 578.7 C361.7 578.7 355 577.8 350 576.8 C345 575.8 340 574.1 335 572.5 C330 570.9 324.2 568.4 320 567 C315.8 565.6 311.7 564.5 310 564 Z" fill="#818181"/>
<path d="M126 532.9 C132.7 533.1 152.7 533.4 166 534.3 C179.3 535.2 195.3 537 206 538.3 C216.7 539.6 221 540.1 230 541.9 C239 543.7 251.7 546.7 260 548.9 C268.3 551.1 273.3 552.9 280 555 C286.7 557.1 293 559.2 300 561.3 C307 563.4 316.3 566.3 322 567.8 C327.7 569.2 331 569.8 334 570 C337 570.2 340 570 340 569 C340 568 337 565.5 334 564.2 C331 562.9 327.7 562.5 322 561 C316.3 559.5 307 557.3 300 555.4 C293 553.5 286.7 551.5 280 549.6 C273.3 547.7 268.3 546 260 544.2 C251.7 542.4 239 540.1 230 538.7 C221 537.3 216.7 536.8 206 535.8 C195.3 534.8 179.3 533.4 166 532.6 C152.7 531.9 132.7 531.5 126 531.3 Z" fill="url(#gd)"/>
<g stroke="#4a4a4a" stroke-width="1.2" fill="none"><line x1="126.5" y1="133.4" x2="128.6" y2="133.4"/><line x1="126.5" y1="125.6" x2="128.6" y2="125.6"/><line x1="126.5" y1="117.9" x2="128.6" y2="117.9"/><line x1="126.5" y1="110.2" x2="128.6" y2="110.2"/><line x1="126.5" y1="94.7" x2="128.6" y2="94.7"/><line x1="126.5" y1="87" x2="128.6" y2="87"/><line x1="126.5" y1="79.3" x2="128.6" y2="79.3"/><line x1="126.5" y1="71.5" x2="128.6" y2="71.5"/><line x1="126.5" y1="56.1" x2="128.6" y2="56.1"/><line x1="126.5" y1="48.3" x2="128.6" y2="48.3"/><line x1="126.5" y1="40.6" x2="128.6" y2="40.6"/><line x1="126.5" y1="32.9" x2="128.6" y2="32.9"/><line x1="126.5" y1="141.1" x2="129.8" y2="141.1"/><line x1="126.5" y1="102.4" x2="129.8" y2="102.4"/><line x1="126.5" y1="63.8" x2="129.8" y2="63.8"/><line x1="126.5" y1="25.2" x2="129.8" y2="25.2"/><line x1="164.9" y1="141.1" x2="164.9" y2="139.5"/><line x1="203.4" y1="141.1" x2="203.4" y2="137.9"/><line x1="241.8" y1="141.1" x2="241.8" y2="139.5"/><line x1="280.2" y1="141.1" x2="280.2" y2="139.5"/><line x1="318.6" y1="141.1" x2="318.6" y2="139.5"/><line x1="357.1" y1="141.1" x2="357.1" y2="137.9"/><line x1="395.5" y1="141.1" x2="395.5" y2="139.5"/><line x1="433.9" y1="141.1" x2="433.9" y2="139.5"/><line x1="472.4" y1="141.1" x2="472.4" y2="139.5"/><line x1="510.8" y1="141.1" x2="510.8" y2="137.9"/><line x1="549.2" y1="141.1" x2="549.2" y2="139.5"/><line x1="587.7" y1="141.1" x2="587.7" y2="139.5"/><line x1="626.1" y1="141.1" x2="626.1" y2="139.5"/><line x1="664.5" y1="141.1" x2="664.5" y2="137.9"/><path d="M126.5 18.2 V141.1 H664.8" fill="none"/></g>
<g stroke="#4a4a4a" stroke-width="1.2" fill="none"><line x1="126.5" y1="300" x2="128.6" y2="300"/><line x1="126.5" y1="292.2" x2="128.6" y2="292.2"/><line x1="126.5" y1="284.5" x2="128.6" y2="284.5"/><line x1="126.5" y1="276.8" x2="128.6" y2="276.8"/><line x1="126.5" y1="261.3" x2="128.6" y2="261.3"/><line x1="126.5" y1="253.6" x2="128.6" y2="253.6"/><line x1="126.5" y1="245.9" x2="128.6" y2="245.9"/><line x1="126.5" y1="238.1" x2="128.6" y2="238.1"/><line x1="126.5" y1="222.7" x2="128.6" y2="222.7"/><line x1="126.5" y1="214.9" x2="128.6" y2="214.9"/><line x1="126.5" y1="207.2" x2="128.6" y2="207.2"/><line x1="126.5" y1="199.5" x2="128.6" y2="199.5"/><line x1="126.5" y1="307.7" x2="129.8" y2="307.7"/><line x1="126.5" y1="269" x2="129.8" y2="269"/><line x1="126.5" y1="230.4" x2="129.8" y2="230.4"/><line x1="126.5" y1="191.8" x2="129.8" y2="191.8"/><line x1="164.9" y1="307.7" x2="164.9" y2="306.1"/><line x1="203.4" y1="307.7" x2="203.4" y2="304.5"/><line x1="241.8" y1="307.7" x2="241.8" y2="306.1"/><line x1="280.2" y1="307.7" x2="280.2" y2="306.1"/><line x1="318.6" y1="307.7" x2="318.6" y2="306.1"/><line x1="357.1" y1="307.7" x2="357.1" y2="304.5"/><line x1="395.5" y1="307.7" x2="395.5" y2="306.1"/><line x1="433.9" y1="307.7" x2="433.9" y2="306.1"/><line x1="472.4" y1="307.7" x2="472.4" y2="306.1"/><line x1="510.8" y1="307.7" x2="510.8" y2="304.5"/><line x1="549.2" y1="307.7" x2="549.2" y2="306.1"/><line x1="587.7" y1="307.7" x2="587.7" y2="306.1"/><line x1="626.1" y1="307.7" x2="626.1" y2="306.1"/><line x1="664.5" y1="307.7" x2="664.5" y2="304.5"/><path d="M126.5 185.3 V307.7 H664.8" fill="none"/></g>
<g stroke="#4a4a4a" stroke-width="1.2" fill="none"><line x1="126.5" y1="466.7" x2="128.6" y2="466.7"/><line x1="126.5" y1="458.9" x2="128.6" y2="458.9"/><line x1="126.5" y1="451.2" x2="128.6" y2="451.2"/><line x1="126.5" y1="443.5" x2="128.6" y2="443.5"/><line x1="126.5" y1="428" x2="128.6" y2="428"/><line x1="126.5" y1="420.3" x2="128.6" y2="420.3"/><line x1="126.5" y1="412.6" x2="128.6" y2="412.6"/><line x1="126.5" y1="404.8" x2="128.6" y2="404.8"/><line x1="126.5" y1="389.4" x2="128.6" y2="389.4"/><line x1="126.5" y1="381.6" x2="128.6" y2="381.6"/><line x1="126.5" y1="373.9" x2="128.6" y2="373.9"/><line x1="126.5" y1="366.2" x2="128.6" y2="366.2"/><line x1="126.5" y1="474.4" x2="129.8" y2="474.4"/><line x1="126.5" y1="435.8" x2="129.8" y2="435.8"/><line x1="126.5" y1="397.1" x2="129.8" y2="397.1"/><line x1="126.5" y1="358.4" x2="129.8" y2="358.4"/><line x1="164.9" y1="474.4" x2="164.9" y2="472.8"/><line x1="203.4" y1="474.4" x2="203.4" y2="471.2"/><line x1="241.8" y1="474.4" x2="241.8" y2="472.8"/><line x1="280.2" y1="474.4" x2="280.2" y2="472.8"/><line x1="318.6" y1="474.4" x2="318.6" y2="472.8"/><line x1="357.1" y1="474.4" x2="357.1" y2="471.2"/><line x1="395.5" y1="474.4" x2="395.5" y2="472.8"/><line x1="433.9" y1="474.4" x2="433.9" y2="472.8"/><line x1="472.4" y1="474.4" x2="472.4" y2="472.8"/><line x1="510.8" y1="474.4" x2="510.8" y2="471.2"/><line x1="549.2" y1="474.4" x2="549.2" y2="472.8"/><line x1="587.7" y1="474.4" x2="587.7" y2="472.8"/><line x1="626.1" y1="474.4" x2="626.1" y2="472.8"/><line x1="664.5" y1="474.4" x2="664.5" y2="471.2"/><path d="M126.5 351.3 V474.4 H664.8" fill="none"/></g>
<g stroke="#4a4a4a" stroke-width="1.2" fill="none"><line x1="126.5" y1="632" x2="128.6" y2="632"/><line x1="126.5" y1="624.3" x2="128.6" y2="624.3"/><line x1="126.5" y1="616.6" x2="128.6" y2="616.6"/><line x1="126.5" y1="608.9" x2="128.6" y2="608.9"/><line x1="126.5" y1="593.4" x2="128.6" y2="593.4"/><line x1="126.5" y1="585.7" x2="128.6" y2="585.7"/><line x1="126.5" y1="578" x2="128.6" y2="578"/><line x1="126.5" y1="570.3" x2="128.6" y2="570.3"/><line x1="126.5" y1="554.9" x2="128.6" y2="554.9"/><line x1="126.5" y1="547.2" x2="128.6" y2="547.2"/><line x1="126.5" y1="539.5" x2="128.6" y2="539.5"/><line x1="126.5" y1="531.8" x2="128.6" y2="531.8"/><line x1="126.5" y1="639.7" x2="129.8" y2="639.7"/><line x1="126.5" y1="601.2" x2="129.8" y2="601.2"/><line x1="126.5" y1="562.6" x2="129.8" y2="562.6"/><line x1="126.5" y1="524.1" x2="129.8" y2="524.1"/><line x1="164.9" y1="639.7" x2="164.9" y2="638.1"/><line x1="203.4" y1="639.7" x2="203.4" y2="636.5"/><line x1="241.8" y1="639.7" x2="241.8" y2="638.1"/><line x1="280.2" y1="639.7" x2="280.2" y2="638.1"/><line x1="318.6" y1="639.7" x2="318.6" y2="638.1"/><line x1="357.1" y1="639.7" x2="357.1" y2="636.5"/><line x1="395.5" y1="639.7" x2="395.5" y2="638.1"/><line x1="433.9" y1="639.7" x2="433.9" y2="638.1"/><line x1="472.4" y1="639.7" x2="472.4" y2="638.1"/><line x1="510.8" y1="639.7" x2="510.8" y2="636.5"/><line x1="549.2" y1="639.7" x2="549.2" y2="638.1"/><line x1="587.7" y1="639.7" x2="587.7" y2="638.1"/><line x1="626.1" y1="639.7" x2="626.1" y2="638.1"/><line x1="664.5" y1="639.7" x2="664.5" y2="636.5"/><path d="M126.5 517.5 V639.7 H664.8" fill="none"/></g>
<g stroke="#4a4a4a" stroke-width="1.2" fill="none"><line x1="126" y1="820.3" x2="128.1" y2="820.3"/><line x1="126" y1="806" x2="129.3" y2="806"/><line x1="126" y1="791.7" x2="128.1" y2="791.7"/><line x1="126" y1="777.4" x2="128.1" y2="777.4"/><line x1="126" y1="763" x2="128.1" y2="763"/><line x1="126" y1="748.7" x2="128.1" y2="748.7"/><line x1="126" y1="734.4" x2="129.3" y2="734.4"/><line x1="126" y1="720.1" x2="128.1" y2="720.1"/><line x1="126" y1="705.8" x2="128.1" y2="705.8"/><line x1="126" y1="691.4" x2="128.1" y2="691.4"/><line x1="126" y1="677.1" x2="128.1" y2="677.1"/><line x1="164.9" y1="823.5" x2="164.9" y2="821.9"/><line x1="203.4" y1="823.5" x2="203.4" y2="820.3"/><line x1="241.8" y1="823.5" x2="241.8" y2="821.9"/><line x1="280.2" y1="823.5" x2="280.2" y2="821.9"/><line x1="318.6" y1="823.5" x2="318.6" y2="821.9"/><line x1="357.1" y1="823.5" x2="357.1" y2="820.3"/><line x1="395.5" y1="823.5" x2="395.5" y2="821.9"/><line x1="433.9" y1="823.5" x2="433.9" y2="821.9"/><line x1="472.4" y1="823.5" x2="472.4" y2="821.9"/><line x1="510.8" y1="823.5" x2="510.8" y2="820.3"/><line x1="549.2" y1="823.5" x2="549.2" y2="821.9"/><line x1="587.7" y1="823.5" x2="587.7" y2="821.9"/><line x1="626.1" y1="823.5" x2="626.1" y2="821.9"/><line x1="664.5" y1="823.5" x2="664.5" y2="820.3"/><path d="M126 669.6 V823.5 H664.8" fill="none"/></g>
<path d="M126 723.8 C128.3 724.9 135.1 728.2 139.6 730.6 C144.1 733 148.7 735.4 153.2 738.1 C157.7 740.8 162.3 744.1 166.8 746.6 C171.3 749.1 176.5 751.5 180.4 753 C184.3 754.5 187.1 755.2 190 755.8 C192.9 756.4 195.2 756.6 198.1 756.5 C201 756.4 204.2 756 207.6 755.1 C211 754.2 214.2 752.8 218.5 751 C222.8 749.2 228.8 746 233.6 744.3 C238.4 742.6 243.8 741.5 247.2 740.9 C250.6 740.3 250.6 740.2 254 740.9 C257.4 741.6 263.1 743.1 267.6 745 C272.1 746.9 276.7 749.2 281.2 752.4 C285.7 755.6 290.3 760.1 294.8 764 C299.3 767.9 305 772.8 308.4 775.6 C311.8 778.5 312.5 779.1 315 781.1 C317.5 783.1 319.8 785.5 323.2 787.9 C326.6 790.3 331.1 792.9 335.4 795.4 C339.7 797.9 344.5 801 349 802.9 C353.5 804.8 358.1 805.9 362.6 806.6 C367.1 807.4 371.7 807.2 376.2 807.4 C380.7 807.6 385.7 807.8 389.8 807.7 C393.9 807.6 397.3 807 400.7 807 C404.1 807 407.3 807.3 410.2 807.4 C413.1 807.5 415.5 807.5 418.2 807.7 C420.9 808 423.6 808.3 426.3 808.9 C429 809.5 432 810.5 434.5 811.1 C437 811.7 439.6 812.6 441.3 812.4 C443 812.2 443.6 810.9 444.7 810 C445.8 809.1 446.9 807.2 448.1 807 C449.4 806.8 450.2 808.2 452.2 809 C454.2 809.8 457.1 811 460.3 812 C463.5 813 467.1 814.2 471.2 815.1 C475.3 816 480.3 816.8 484.8 817.4 C489.3 818 495 818.1 498.4 818.5 C501.8 818.9 502.5 819.3 505 819.9 C507.5 820.5 510.7 821.3 513.2 821.9 C515.7 822.5 517.2 823 520 823.4 C522.8 823.8 526.7 824 530 824 C533.3 824 536.7 823.9 540 823.4 C543.3 822.9 546.2 821.6 549.9 821 C553.6 820.4 558.9 820 562.1 819.5 C565.3 819 566 818.7 568.9 817.8 C571.8 816.9 576.8 815 579.8 814 C582.8 813 584.5 812.6 586.6 812 C588.7 811.4 590.3 811.3 592.1 810.4 C593.9 809.5 595.4 807.7 597.5 806.7 C599.6 805.7 602.1 805.3 605 804.5 C607.9 803.7 611.7 802.4 614.6 801.7 C617.5 801 620 800.7 622.2 800.2 C624.4 799.7 625.8 799.4 627.6 798.7 C629.4 798 631.3 797 633.1 796.2 C634.9 795.4 636.3 794.4 638.5 793.7 C640.7 793 643.9 792.6 646.1 791.9 C648.3 791.2 649.6 790.4 651.6 789.7 C653.6 789 656 788.5 658.1 787.8 C660.2 787.1 663.1 786 664.1 785.6" fill="none" stroke="#000" stroke-width="3" stroke-dasharray="4.4 2.2" clip-path="url(#cpe)"/>
<rect x="356.6" y="5.4" width="19.2" height="23.9" fill="#ffffff"/><rect x="375.5" y="5.4" width="37.8" height="23.9" fill="#e9e9e9"/><rect x="413" y="5.4" width="37.8" height="23.9" fill="#d0d0d0"/><rect x="450.6" y="5.4" width="37.8" height="23.9" fill="#b6b6b6"/><rect x="488.1" y="5.4" width="37.8" height="23.9" fill="#9b9b9b"/><rect x="525.6" y="5.4" width="37.8" height="23.9" fill="#818181"/><rect x="563.1" y="5.4" width="37.8" height="23.9" fill="#666666"/><rect x="600.7" y="5.4" width="37.8" height="23.9" fill="#4d4d4d"/><rect x="638.2" y="5.4" width="37.8" height="23.9" fill="#333333"/><rect x="675.7" y="5.4" width="37.8" height="23.9" fill="#1a1a1a"/><rect x="713.3" y="5.4" width="18.6" height="23.9" fill="#000000"/><g stroke="#6a6a6a" stroke-width="1"><line x1="375.5" y1="5.4" x2="375.5" y2="29.3"/><line x1="413" y1="5.4" x2="413" y2="29.3"/><line x1="450.6" y1="5.4" x2="450.6" y2="29.3"/><line x1="488.1" y1="5.4" x2="488.1" y2="29.3"/><line x1="525.6" y1="5.4" x2="525.6" y2="29.3"/><line x1="563.1" y1="5.4" x2="563.1" y2="29.3"/><line x1="600.7" y1="5.4" x2="600.7" y2="29.3"/><line x1="638.2" y1="5.4" x2="638.2" y2="29.3"/><line x1="675.7" y1="5.4" x2="675.7" y2="29.3"/><line x1="713.3" y1="5.4" x2="713.3" y2="29.3"/><rect x="356.6" y="5.4" width="375" height="23.9" fill="none"/></g><text x="375.5" y="49" text-anchor="middle" font-size="14" class="h">0.02</text><text x="413" y="49" text-anchor="middle" font-size="14" class="h">0.24</text><text x="450.6" y="49" text-anchor="middle" font-size="14" class="h">0.46</text><text x="488.1" y="49" text-anchor="middle" font-size="14" class="h">0.68</text><text x="525.6" y="49" text-anchor="middle" font-size="14" class="h">0.90</text><text x="563.1" y="49" text-anchor="middle" font-size="14" class="h">1.12</text><text x="600.7" y="49" text-anchor="middle" font-size="14" class="h">1.34</text><text x="638.2" y="49" text-anchor="middle" font-size="14" class="h">1.56</text><text x="675.7" y="49" text-anchor="middle" font-size="14" class="h">1.78</text><text x="713.3" y="49" text-anchor="middle" font-size="14" class="h">2.00</text><text x="334.3" y="47.4" font-size="14" font-style="italic" class="h">P</text><text x="343.2" y="49.6" font-size="10" class="h">11</text><text x="352.6" y="47.4" font-size="14" class="h">:</text>
<rect x="356.6" y="172" width="19.2" height="23.9" fill="#ffffff"/><rect x="375.5" y="172" width="37.8" height="23.9" fill="#e9e9e9"/><rect x="413" y="172" width="37.8" height="23.9" fill="#d0d0d0"/><rect x="450.6" y="172" width="37.8" height="23.9" fill="#b6b6b6"/><rect x="488.1" y="172" width="37.8" height="23.9" fill="#9b9b9b"/><rect x="525.6" y="172" width="37.8" height="23.9" fill="#818181"/><rect x="563.1" y="172" width="37.8" height="23.9" fill="#666666"/><rect x="600.7" y="172" width="37.8" height="23.9" fill="#4d4d4d"/><rect x="638.2" y="172" width="37.8" height="23.9" fill="#333333"/><rect x="675.7" y="172" width="37.8" height="23.9" fill="#1a1a1a"/><rect x="713.3" y="172" width="18.6" height="23.9" fill="#000000"/><g stroke="#6a6a6a" stroke-width="1"><line x1="375.5" y1="172" x2="375.5" y2="195.9"/><line x1="413" y1="172" x2="413" y2="195.9"/><line x1="450.6" y1="172" x2="450.6" y2="195.9"/><line x1="488.1" y1="172" x2="488.1" y2="195.9"/><line x1="525.6" y1="172" x2="525.6" y2="195.9"/><line x1="563.1" y1="172" x2="563.1" y2="195.9"/><line x1="600.7" y1="172" x2="600.7" y2="195.9"/><line x1="638.2" y1="172" x2="638.2" y2="195.9"/><line x1="675.7" y1="172" x2="675.7" y2="195.9"/><line x1="713.3" y1="172" x2="713.3" y2="195.9"/><rect x="356.6" y="172" width="375" height="23.9" fill="none"/></g><text x="375.5" y="207.8" text-anchor="middle" font-size="14" class="h">0.02</text><text x="413" y="207.8" text-anchor="middle" font-size="14" class="h">0.04</text><text x="450.6" y="207.8" text-anchor="middle" font-size="14" class="h">0.06</text><text x="488.1" y="207.8" text-anchor="middle" font-size="14" class="h">0.08</text><text x="525.6" y="207.8" text-anchor="middle" font-size="14" class="h">0.10</text><text x="563.1" y="207.8" text-anchor="middle" font-size="14" class="h">0.12</text><text x="600.7" y="207.8" text-anchor="middle" font-size="14" class="h">0.14</text><text x="638.2" y="207.8" text-anchor="middle" font-size="14" class="h">0.16</text><text x="675.7" y="207.8" text-anchor="middle" font-size="14" class="h">0.18</text><text x="713.3" y="207.8" text-anchor="middle" font-size="14" class="h">0.20</text><text x="331.4" y="206.7" font-size="14" font-style="italic" class="h">P</text><text x="340.2" y="208.9" font-size="10" class="h">22</text><text x="349.8" y="206.7" font-size="14" class="h">:</text>
<rect x="182.4" y="337.8" width="22.5" height="23.9" fill="#000000"/><rect x="204.6" y="337.8" width="43.7" height="23.9" fill="#1a1a1a"/><rect x="248" y="337.8" width="43.7" height="23.9" fill="#333333"/><rect x="291.4" y="337.8" width="43.7" height="23.9" fill="#4d4d4d"/><rect x="334.8" y="337.8" width="43.7" height="23.9" fill="#666666"/><rect x="378.2" y="337.8" width="43.7" height="23.9" fill="#818181"/><rect x="421.6" y="337.8" width="43.7" height="23.9" fill="#9b9b9b"/><rect x="465" y="337.8" width="43.7" height="23.9" fill="#b6b6b6"/><rect x="508.4" y="337.8" width="43.7" height="23.9" fill="#d0d0d0"/><rect x="551.8" y="337.8" width="43.7" height="23.9" fill="#e9e9e9"/><rect x="595.2" y="337.8" width="21.9" height="23.9" fill="#ffffff"/><g stroke="#6a6a6a" stroke-width="1"><line x1="204.6" y1="337.8" x2="204.6" y2="361.7"/><line x1="248" y1="337.8" x2="248" y2="361.7"/><line x1="291.4" y1="337.8" x2="291.4" y2="361.7"/><line x1="334.8" y1="337.8" x2="334.8" y2="361.7"/><line x1="378.2" y1="337.8" x2="378.2" y2="361.7"/><line x1="421.6" y1="337.8" x2="421.6" y2="361.7"/><line x1="465" y1="337.8" x2="465" y2="361.7"/><line x1="508.4" y1="337.8" x2="508.4" y2="361.7"/><line x1="551.8" y1="337.8" x2="551.8" y2="361.7"/><line x1="595.2" y1="337.8" x2="595.2" y2="361.7"/><rect x="182.4" y="337.8" width="434.4" height="23.9" fill="none"/></g><path d="M187.2 378.3H197.5" stroke="#fff" stroke-width="3.2"/><path d="M188 378.3H196.7" stroke="#000" stroke-width="1.05"/><text x="197.6" y="382" font-size="14" class="h">0.80</text><path d="M230.6 378.3H240.9" stroke="#fff" stroke-width="3.2"/><path d="M231.4 378.3H240.1" stroke="#000" stroke-width="1.05"/><text x="241" y="382" font-size="14" class="h">0.72</text><path d="M274 378.3H284.3" stroke="#fff" stroke-width="3.2"/><path d="M274.8 378.3H283.5" stroke="#000" stroke-width="1.05"/><text x="284.4" y="382" font-size="14" class="h">0.64</text><path d="M317.4 378.3H327.7" stroke="#fff" stroke-width="3.2"/><path d="M318.2 378.3H326.9" stroke="#000" stroke-width="1.05"/><text x="327.8" y="382" font-size="14" class="h">0.56</text><path d="M360.8 378.3H371.1" stroke="#fff" stroke-width="3.2"/><path d="M361.6 378.3H370.3" stroke="#000" stroke-width="1.05"/><text x="371.2" y="382" font-size="14" class="h">0.48</text><path d="M404.2 378.3H414.5" stroke="#fff" stroke-width="3.2"/><path d="M405 378.3H413.7" stroke="#000" stroke-width="1.05"/><text x="414.6" y="382" font-size="14" class="h">0.40</text><path d="M447.6 378.3H457.9" stroke="#fff" stroke-width="3.2"/><path d="M448.4 378.3H457.1" stroke="#000" stroke-width="1.05"/><text x="458" y="382" font-size="14" class="h">0.32</text><path d="M491 378.3H501.3" stroke="#fff" stroke-width="3.2"/><path d="M491.8 378.3H500.5" stroke="#000" stroke-width="1.05"/><text x="501.4" y="382" font-size="14" class="h">0.24</text><path d="M534.4 378.3H544.7" stroke="#fff" stroke-width="3.2"/><path d="M535.2 378.3H543.9" stroke="#000" stroke-width="1.05"/><text x="544.8" y="382" font-size="14" class="h">0.16</text><path d="M577.8 378.3H588.1" stroke="#fff" stroke-width="3.2"/><path d="M578.6 378.3H587.3" stroke="#000" stroke-width="1.05"/><text x="588.2" y="382" font-size="14" class="h">0.08</text><text x="156.8" y="381.8" font-size="14" font-style="italic" class="h">P</text><text x="165.6" y="384" font-size="10" class="h">12</text><text x="175.2" y="381.8" font-size="14" class="h">:</text>
<rect x="356.6" y="504.6" width="19.2" height="23.6" fill="#ffffff"/><rect x="375.5" y="504.6" width="37.8" height="23.6" fill="#e9e9e9"/><rect x="413" y="504.6" width="37.8" height="23.6" fill="#d0d0d0"/><rect x="450.6" y="504.6" width="37.8" height="23.6" fill="#b6b6b6"/><rect x="488.1" y="504.6" width="37.8" height="23.6" fill="#9b9b9b"/><rect x="525.6" y="504.6" width="37.8" height="23.6" fill="#818181"/><rect x="563.1" y="504.6" width="37.8" height="23.6" fill="#666666"/><rect x="600.7" y="504.6" width="37.8" height="23.6" fill="#4d4d4d"/><rect x="638.2" y="504.6" width="37.8" height="23.6" fill="#333333"/><rect x="675.7" y="504.6" width="37.8" height="23.6" fill="#1a1a1a"/><rect x="713.3" y="504.6" width="18.6" height="23.6" fill="#000000"/><g stroke="#6a6a6a" stroke-width="1"><line x1="375.5" y1="504.6" x2="375.5" y2="528.2"/><line x1="413" y1="504.6" x2="413" y2="528.2"/><line x1="450.6" y1="504.6" x2="450.6" y2="528.2"/><line x1="488.1" y1="504.6" x2="488.1" y2="528.2"/><line x1="525.6" y1="504.6" x2="525.6" y2="528.2"/><line x1="563.1" y1="504.6" x2="563.1" y2="528.2"/><line x1="600.7" y1="504.6" x2="600.7" y2="528.2"/><line x1="638.2" y1="504.6" x2="638.2" y2="528.2"/><line x1="675.7" y1="504.6" x2="675.7" y2="528.2"/><line x1="713.3" y1="504.6" x2="713.3" y2="528.2"/><rect x="356.6" y="504.6" width="375" height="23.6" fill="none"/></g><text x="375.5" y="544.1" text-anchor="middle" font-size="14" class="h">0.02</text><text x="413" y="544.1" text-anchor="middle" font-size="14" class="h">0.24</text><text x="450.6" y="544.1" text-anchor="middle" font-size="14" class="h">0.46</text><text x="488.1" y="544.1" text-anchor="middle" font-size="14" class="h">0.68</text><text x="525.6" y="544.1" text-anchor="middle" font-size="14" class="h">0.90</text><text x="563.1" y="544.1" text-anchor="middle" font-size="14" class="h">1.12</text><text x="600.7" y="544.1" text-anchor="middle" font-size="14" class="h">1.34</text><text x="638.2" y="544.1" text-anchor="middle" font-size="14" class="h">1.56</text><text x="675.7" y="544.1" text-anchor="middle" font-size="14" class="h">1.78</text><text x="713.3" y="544.1" text-anchor="middle" font-size="14" class="h">2.00</text><text x="306.3" y="541.5" font-size="14" font-style="italic" class="h">P</text><text x="315" y="543.7" font-size="10" class="h">11</text><text x="326.5" y="543.7" font-size="10" class="h">+</text><text x="335.3" y="541.5" font-size="14" font-style="italic" class="h">P</text><text x="344.3" y="543.7" font-size="10" class="h">22</text><text x="353.9" y="541.5" font-size="14" class="h">:</text>
<g font-size="26"><text x="116.2" y="33.4" text-anchor="end" font-size="25.5">0.15</text><text x="116.2" y="72" text-anchor="end" font-size="25.5">0.10</text><text x="116.2" y="110.6" text-anchor="end" font-size="25.5">0.05</text><text x="116.2" y="149.3" text-anchor="end" font-size="25.5">0</text>
<text x="116.2" y="199.9" text-anchor="end" font-size="25.5">0.15</text><text x="116.2" y="238.6" text-anchor="end" font-size="25.5">0.10</text><text x="116.2" y="277.2" text-anchor="end" font-size="25.5">0.05</text><text x="116.2" y="315.9" text-anchor="end" font-size="25.5">0</text>
<text x="116.2" y="366.6" text-anchor="end" font-size="25.5">0.15</text><text x="116.2" y="405.3" text-anchor="end" font-size="25.5">0.10</text><text x="116.2" y="443.9" text-anchor="end" font-size="25.5">0.05</text><text x="116.2" y="482.6" text-anchor="end" font-size="25.5">0</text>
<text x="116.2" y="532.3" text-anchor="end" font-size="25.5">0.15</text><text x="116.2" y="570.8" text-anchor="end" font-size="25.5">0.10</text><text x="116.2" y="609.4" text-anchor="end" font-size="25.5">0.05</text><text x="116.2" y="647.9" text-anchor="end" font-size="25.5">0</text>
<text x="38.3" y="23.9" text-anchor="end" font-size="29.5">(<tspan font-style="italic">a</tspan>)</text>
<text x="38.3" y="188.9" text-anchor="end" font-size="29.5">(<tspan font-style="italic">b</tspan>)</text>
<text x="38.3" y="355.8" text-anchor="end" font-size="29.5">(<tspan font-style="italic">c</tspan>)</text>
<text x="38.3" y="521.1" text-anchor="end" font-size="29.5">(<tspan font-style="italic">d</tspan>)</text>
<text x="38.3" y="687.4" text-anchor="end" font-size="29.5">(<tspan font-style="italic">e</tspan>)</text>
<text x="9.5" y="81.1" font-size="30.5" font-style="italic">y</text><line x1="32.4" y1="61.5" x2="23.7" y2="86.7" stroke="#000" stroke-width="1.9"/><text x="35.6" y="81.1" font-size="30.5" font-style="italic">C</text>
<text x="9.5" y="248.5" font-size="30.5" font-style="italic">y</text><line x1="32.4" y1="228.9" x2="23.7" y2="254.1" stroke="#000" stroke-width="1.9"/><text x="35.6" y="248.5" font-size="30.5" font-style="italic">C</text>
<text x="9.5" y="414.1" font-size="30.5" font-style="italic">y</text><line x1="32.4" y1="394.5" x2="23.7" y2="419.7" stroke="#000" stroke-width="1.9"/><text x="35.6" y="414.1" font-size="30.5" font-style="italic">C</text>
<text x="9.5" y="581.1" font-size="30.5" font-style="italic">y</text><line x1="32.4" y1="561.5" x2="23.7" y2="586.7" stroke="#000" stroke-width="1.9"/><text x="35.6" y="581.1" font-size="30.5" font-style="italic">C</text>
<text x="116.3" y="742.8" text-anchor="end" font-size="25">0.005</text>
<text x="116.3" y="813.6" text-anchor="end" font-size="25">0</text>
<text x="12.6" y="751.8" font-size="30.5" font-style="italic">C<tspan font-size="19" dx="-3.0" dy="3.7">f</tspan></text>
<text x="203.4" y="852.6" text-anchor="middle" font-size="25">0.6</text>
<text x="357.1" y="852.6" text-anchor="middle" font-size="25">0.8</text>
<text x="510.8" y="852.6" text-anchor="middle" font-size="25">1.0</text>
<text x="664.5" y="852.6" text-anchor="middle" font-size="25">1.2</text>
<text x="371" y="892.1" font-size="31.5" font-style="italic">x</text>
<line x1="395.6" y1="871.8" x2="387" y2="897" stroke="#000" stroke-width="1.9"/>
<text x="398.2" y="892.1" font-size="31.5" font-style="italic">C</text></g>
</svg>
</body></html>
